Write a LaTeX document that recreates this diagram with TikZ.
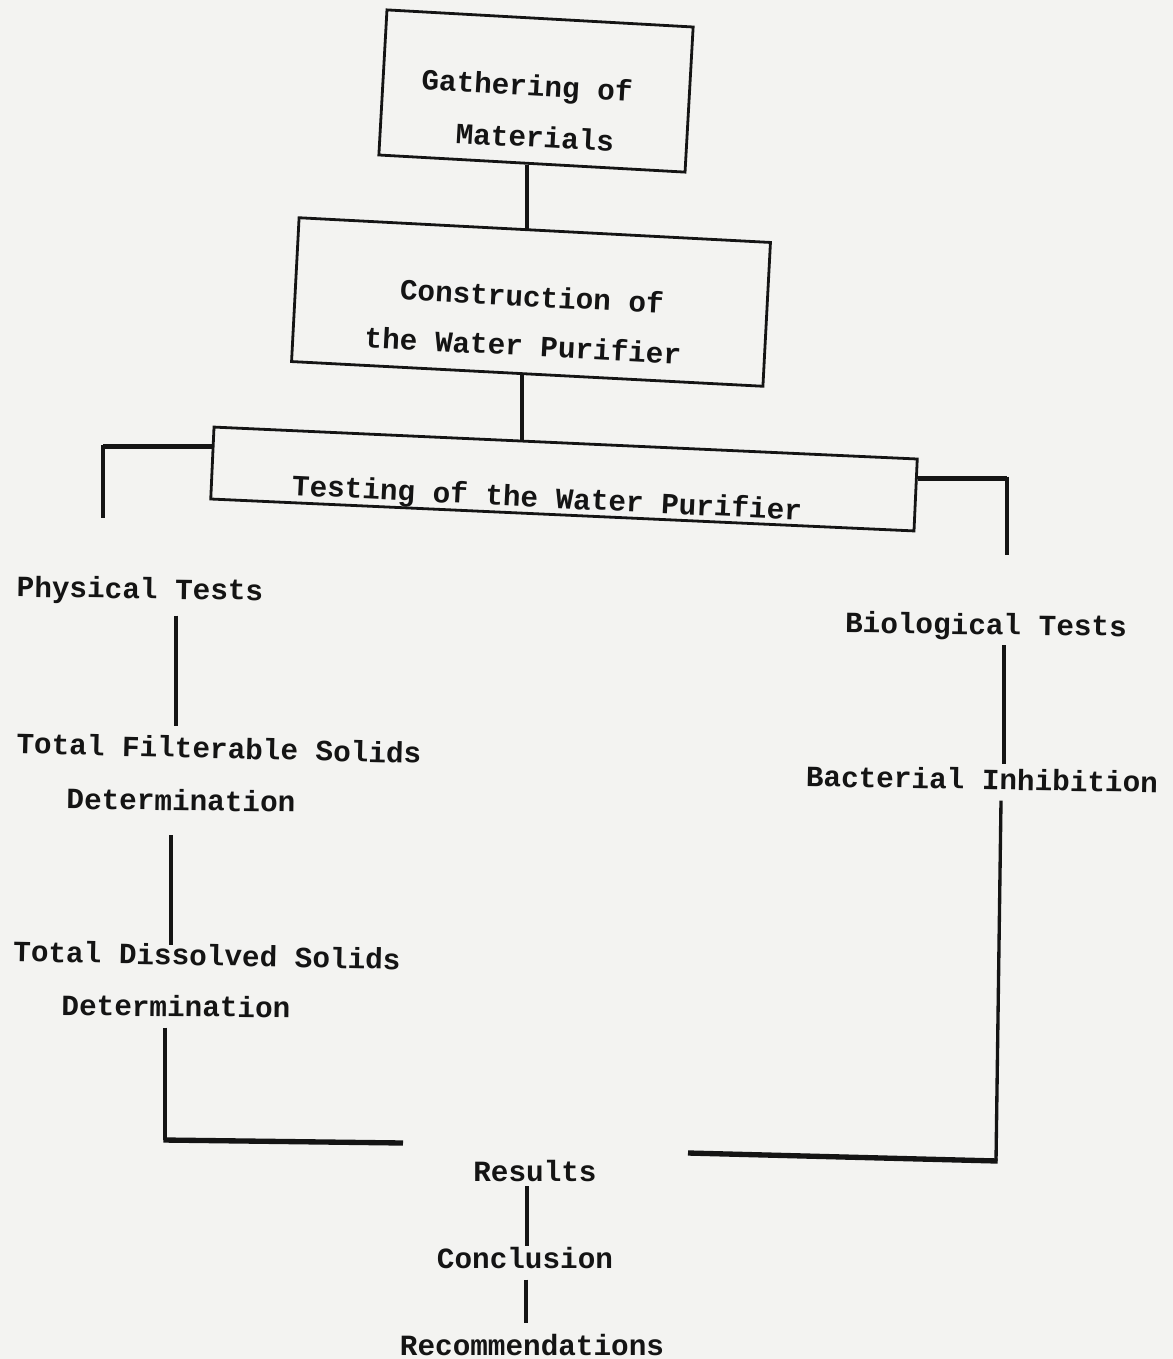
\documentclass[tikz,border=0pt]{standalone}
\usepackage{fontspec}
\setmainfont{Liberation Mono}
\usetikzlibrary{calc}
\definecolor{paper}{RGB}{243,243,241}
\definecolor{ink}{RGB}{20,20,20}
\tikzset{
  box/.style={draw=ink, line width=2.1pt, rectangle, inner sep=0pt},
  lbl/.style={text=ink, font=\fontsize{22}{26}\selectfont\bfseries, inner xsep=0pt, inner ysep=8pt},
  conn/.style={draw=ink, line width=2.5pt},
  bar/.style={draw=ink, line width=4pt},
}
\begin{document}
\begin{tikzpicture}[x=0.75pt,y=-0.75pt]
\fill[paper] (0,0) rectangle (1173,1359);
\useasboundingbox (0,0) rectangle (1173,1359);

% boxes
\node[box, minimum width=230pt, minimum height=109pt, rotate=-3.2] (gather) at (536,91) {};
\node[box, minimum width=354pt, minimum height=108pt, rotate=-3.0] (constr) at (531,302) {};
\node[box, minimum width=528pt, minimum height=54pt, rotate=-2.6] (test) at (564,479) {};

% box texts
\node[lbl, rotate=-3.2] (gt1) at (527,88) {Gathering of};
\node[lbl, rotate=-3.2] (gt2) at (535,137) {Materials};
\node[lbl, rotate=-3.0] (ct1) at (532,296) {Construction of};
\node[lbl, rotate=-3.0] (ct2) at (523,345) {the Water Purifier};
\node[lbl, rotate=-2.8] (tt) at (547,500) {Testing of the Water Purifier};

% free labels
\node[lbl, rotate=-0.8] (phys) at (140,591) {Physical Tests};
\node[lbl, rotate=-1.4] (tfs1) at (219,748) {Total Filterable Solids};
\node[lbl, rotate=-0.8] (det1) at (181,800) {Determination};
\node[lbl, rotate=-1.2] (tds1) at (207,955) {Total Dissolved Solids};
\node[lbl, rotate=-0.6] (det2) at (176,1006) {Determination};
\node[lbl, rotate=-0.8] (bio) at (986,627) {Biological Tests};
\node[lbl, rotate=-1.0] (bact) at (982,779) {Bacterial Inhibition};
\node[lbl] (res) at (535,1171) {Results};
\node[lbl] (conc) at (525,1258) {Conclusion};
\node[lbl] (rec) at (532,1345) {Recommendations};

% x guides
\coordinate (xA) at (527,0);
\coordinate (xB) at (522,0);
\coordinate (xP) at (176,0);
\coordinate (xQ) at (171,0);
\coordinate (xR) at (1004,0);
\coordinate (xS) at (1001,0);
\coordinate (xT) at (526,0);

% top chain
\draw[conn] (gather.south -| xA) -- (constr.north -| xA);
\draw[conn] (constr.south -| xB) -- (test.north -| xB);

% brackets from testing box
\coordinate (lbE) at (103,518);
\coordinate (rbE) at (1007,555);
\coordinate (lA) at ($(test.north west)!0.28!(test.south west)$);
\coordinate (rA) at ($(test.north east)!0.28!(test.south east)$);
\draw[bar] (lA) -- (lA -| lbE);
\draw[conn] ([yshift=1.5pt]lA -| lbE) -- (lbE);
\draw[bar] (rA) -- (rA -| rbE);
\draw[conn] ([yshift=1.5pt]rA -| rbE) -- (rbE);

% physical branch
\draw[conn] (phys.south -| xP) -- (tfs1.north -| xP);
\draw[conn, shorten <=10pt, shorten >=-9pt] (det1.south -| xQ) -- (tds1.north -| xQ);
\coordinate (lc) at (165,1140);
\coordinate (le) at (403,1143);
\draw[conn] (det2.south -| lc) -- (lc);
\draw[bar] ([xshift=-1.2pt]lc) -- (le);

% biological branch
\draw[conn, shorten <=-5pt, shorten >=-5pt] (bio.south -| xR) -- (bact.north -| xR);
\coordinate (rc) at (996,1161);
\coordinate (re) at (688,1153);
\draw[conn] (bact.south -| xS) -- (rc);
\draw[bar] ([xshift=1.2pt]rc) -- (re);

% bottom chain
\draw[conn, shorten <=-5pt, shorten >=-7pt] (res.south -| xA) -- (conc.north -| xA);
\draw[conn] (conc.south -| xT) -- (rec.north -| xT);
\end{tikzpicture}
\end{document}
